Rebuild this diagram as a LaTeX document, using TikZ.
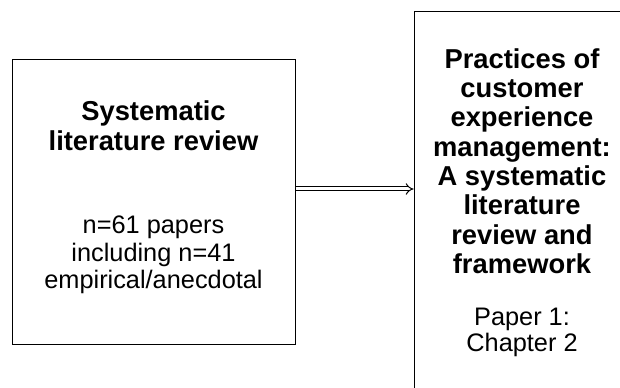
\documentclass[tikz,border=0pt]{standalone}
\usepackage{fontspec}
\setmainfont{Liberation Sans}
\usetikzlibrary{positioning, arrows.meta}
\tikzset{
  stagebox/.style = {rectangle, draw=black, line width=0.75pt, fill=white,
                     inner sep=0pt},
  stagetitle/.style = {align=center, font=\fontsize{20.5}{22}\selectfont\bfseries},
  stagenote/.style = {align=center, font=\fontsize{19}{19.5}\selectfont},
  stagearrow/.style = {-Implies, double, double distance=2.25pt,
                       line width=0.75pt, draw=black}
}

\begin{document}
\begin{tikzpicture}[x=0.75pt, y=-0.75pt]
\useasboundingbox (0,0) rectangle (620,388);
\clip (0,0) rectangle (620,388);
% left box: the review
\node[stagebox, minimum width=212.25pt, minimum height=213pt] (slr) at (153.5,202) {};
\node[stagetitle, font=\fontsize{20.5}{22.5}\selectfont\bfseries] (slrtitle) at (153.5,126) {Systematic\\literature review};
\node[stagenote, font=\fontsize{19}{20.5}\selectfont]  (slrnote)  at (153.5,255) {n=61 papers\\including n=41\\empirical/anecdotal};
% right box: the paper
\node[stagebox, minimum width=162pt, minimum height=291pt] (paper) at (522,206) {};
\node[stagetitle] (papertitle) at (522,161) {Practices of\\customer\\experience\\management:\\A systematic\\literature\\review and\\framework};
\node[stagenote]  (papernote)  at (522,332) {Paper 1:\\Chapter 2};

\draw[stagearrow] ([yshift=9.75pt]slr.east) -- ([yshift=9.75pt]slr.east -| paper.west);
\end{tikzpicture}
\end{document}
